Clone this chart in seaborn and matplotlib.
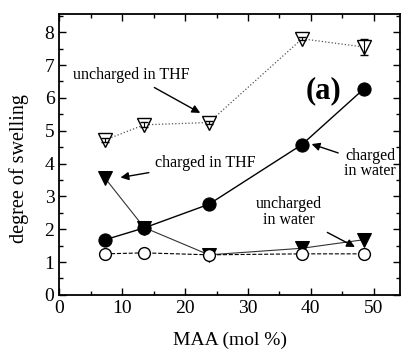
import numpy as np
import matplotlib
matplotlib.use('Agg')
import matplotlib.pyplot as plt
import pandas as pd
import seaborn as sns
from matplotlib.ticker import MultipleLocator

# data
maa = [7.3, 13.5, 23.8, 38.6, 48.4]
charged_water = [1.68, 2.04, 2.76, 4.58, 6.27]
uncharged_thf = [4.72, 5.18, 5.25, 7.80, 7.55]
uncharged_thf_err = [0.05, 0.08, 0.06, 0.05, 0.25]
charged_thf = [3.55, 2.05, 1.22, 1.42, 1.68]
uncharged_water = [1.25, 1.28, 1.22, 1.25, 1.25]

sns.set_style('ticks', {'axes.edgecolor': 'black', 'xtick.color': 'black',
                        'ytick.color': 'black', 'text.color': 'black',
                        'axes.labelcolor': 'black'})
plt.rcParams['font.family'] = ['Liberation Serif', 'DejaVu Serif']
plt.rcParams['xtick.direction'] = 'in'
plt.rcParams['ytick.direction'] = 'in'

fig, ax = plt.subplots(figsize=(4.03, 3.54), dpi=100)

sns.lineplot(x=maa, y=uncharged_thf, ax=ax, color='#555555', lw=0.9, ls=':',
             marker='v', markersize=10, markerfacecolor='white',
             markeredgecolor='black', markeredgewidth=1.0)
ax.errorbar(maa, uncharged_thf, yerr=uncharged_thf_err, fmt='none',
            ecolor='black', elinewidth=0.8, capsize=3)
sns.lineplot(x=maa, y=charged_thf, ax=ax, color='#333333', lw=0.8, ls='-',
             marker='v', markersize=10, markerfacecolor='black',
             markeredgecolor='black')
sns.lineplot(x=maa, y=uncharged_water, ax=ax, color='black', lw=0.8, ls='--',
             marker='o', markersize=8.5, markerfacecolor='white',
             markeredgecolor='black', markeredgewidth=1.0)
sns.lineplot(x=maa, y=charged_water, ax=ax, color='black', lw=1.0, ls='-',
             marker='o', markersize=9.5, markerfacecolor='black',
             markeredgecolor='black')

ax.set_xlim(0, 54.2)
ax.set_ylim(0, 8.55)
ax.xaxis.set_major_locator(MultipleLocator(10))
ax.xaxis.set_minor_locator(MultipleLocator(5))
ax.yaxis.set_major_locator(MultipleLocator(1))
ax.yaxis.set_minor_locator(MultipleLocator(0.5))
ax.tick_params(which='both', top=True, right=True, labelsize=14, width=1.0,
               colors='black')
ax.tick_params(which='major', length=5)
ax.tick_params(which='minor', length=3)
for s in ax.spines.values():
    s.set_linewidth(1.3)
    s.set_color('black')
ax.set_xlabel('MAA (mol %)', fontsize=14)
ax.set_ylabel('degree of swelling', fontsize=14.5)
ax.yaxis.set_label_coords(-0.09, 0.45)
ax.xaxis.set_label_coords(0.5, -0.13)

arrow = dict(arrowstyle='-|>', color='black', lw=1.0, mutation_scale=12)
ax.annotate('uncharged in THF', xy=(22.8, 5.5), xytext=(11.5, 6.7),
            ha='center', va='center', fontsize=11.5, arrowprops=arrow)
ax.annotate('charged in THF', xy=(9.3, 3.56), xytext=(23.2, 4.02),
            ha='center', va='center', fontsize=11.5, arrowprops=arrow)
ax.annotate('charged\nin water', xy=(39.7, 4.62), xytext=(49.4, 4.0),
            ha='center', va='center', fontsize=11.5, linespacing=0.95,
            arrowprops=arrow)
ax.annotate('uncharged\nin water', xy=(47.4, 1.42), xytext=(36.5, 2.52),
            ha='center', va='center', fontsize=11.5, linespacing=0.95,
            arrowprops=arrow)
ax.text(42, 6.22, '(a)', fontsize=22, fontweight='bold', ha='center', va='center')

fig.subplots_adjust(left=0.147, right=0.993, top=0.96, bottom=0.167)
fig.savefig('out.png', dpi=100)
